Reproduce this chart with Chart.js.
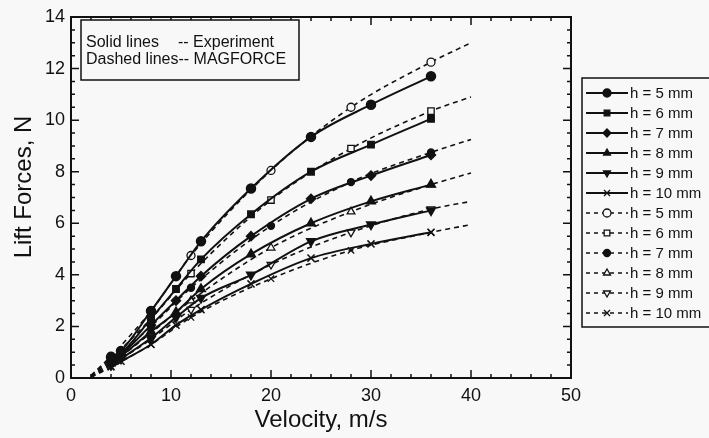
<!DOCTYPE html>
<html>
<head>
<meta charset="utf-8">
<script src="https://cdn.jsdelivr.net/npm/chart.js@4/dist/chart.umd.min.js"></script>
<style>
html,body{margin:0;padding:0;background:#f8f8f8;}
#wrap{width:709px;height:438px;position:relative;}
</style>
</head>
<body>
<div id="wrap"><canvas id="c" width="709" height="438"></canvas></div>
<script>
// ---- data ----
const expVelocity = [4, 5, 8, 10.5, 13, 18, 24, 30, 36];
const exp_h5  = [0.8, 1.05, 2.6, 3.95, 5.3, 7.35, 9.35, 10.6, 11.7];
const exp_h6  = [0.7, 0.95, 2.3, 3.45, 4.6, 6.35, 8.0, 9.05, 10.05];
const exp_h7  = [0.65, 0.9, 2.05, 3.0, 3.95, 5.5, 6.95, 7.85, 8.65];
const exp_h8  = [0.6, 0.85, 1.8, 2.55, 3.45, 4.8, 6.0, 6.85, 7.5];
const exp_h9  = [0.5, 0.75, 1.55, 2.35, 3.1, 4.0, 5.3, 5.95, 6.5];
const exp_h10 = [0.45, 0.65, 1.3, 2.05, 2.65, 3.65, 4.65, 5.2, 5.65];

const modVelocity = [2, 4, 8, 12, 20, 28, 36, 40];
const mod_h5  = [0.1, 0.85, 2.6, 4.75, 8.05, 10.5, 12.25, 13.0];
const mod_h6  = [0.08, 0.75, 2.3, 4.05, 6.9, 8.9, 10.35, 10.9];
const mod_h7  = [0.06, 0.65, 2.0, 3.5, 5.9, 7.6, 8.75, 9.25];
const mod_h8  = [0.05, 0.55, 1.75, 3.0, 5.05, 6.45, 7.5, 7.95];
const mod_h9  = [0.04, 0.5, 1.5, 2.65, 4.4, 5.65, 6.55, 6.85];
const mod_h10 = [0.03, 0.42, 1.3, 2.35, 3.85, 4.95, 5.65, 5.95];
const modMarkerShown = [false, true, true, true, true, true, true, false];

const seriesLabels = ['h = 5 mm','h = 6 mm','h = 7 mm','h = 8 mm','h = 9 mm','h = 10 mm'];
const xTicks = [0, 10, 20, 30, 40, 50];
const yTicks = [0, 2, 4, 6, 8, 10, 12, 14];
const xTitle = 'Velocity, m/s';
const yTitle = 'Lift Forces, N';
const noteLines = ['Solid lines', '-- Experiment', 'Dashed lines-- MAGFORCE'];

// ---- styles ----
const BG = '#f8f8f8';
const INK = '#111';
const FONT = '"Liberation Sans", Arial, sans-serif';

const expStyles = [
  {ps:'circle', r:4.5, rot:0, fill:INK},
  {ps:'rect', r:4.5, rot:0, fill:INK},
  {ps:'rectRot', r:4.5, rot:0, fill:INK},
  {ps:'triangle', r:5, rot:0, fill:INK},
  {ps:'triangle', r:5, rot:180, fill:INK},
  {ps:'crossRot', r:5, rot:0, fill:INK}
];
const modStyles = [
  {ps:'circle', r:4, rot:0, fill:BG},
  {ps:'rect', r:4.5, rot:0, fill:BG},
  {ps:'circle', r:3.5, rot:0, fill:INK},
  {ps:'triangle', r:4.5, rot:0, fill:BG},
  {ps:'triangle', r:4.5, rot:180, fill:BG},
  {ps:'crossRot', r:4.5, rot:0, fill:INK}
];

const expSeries = [exp_h5, exp_h6, exp_h7, exp_h8, exp_h9, exp_h10];
const modSeries = [mod_h5, mod_h6, mod_h7, mod_h8, mod_h9, mod_h10];

const datasets = [];
expSeries.forEach((vals, i) => {
  const st = expStyles[i];
  datasets.push({
    label: seriesLabels[i], kind: 'exp',
    data: expVelocity.map((v, k) => ({x: v, y: vals[k]})),
    showLine: true, borderColor: INK, borderWidth: 2,
    pointStyle: st.ps, pointRadius: st.r, pointRotation: st.rot,
    pointBackgroundColor: st.fill, pointBorderColor: INK, pointBorderWidth: 1.5,
    cubicInterpolationMode: 'monotone', order: 1
  });
});
modSeries.forEach((vals, i) => {
  const st = modStyles[i];
  datasets.push({
    label: seriesLabels[i], kind: 'mod',
    data: modVelocity.map((v, k) => ({x: v, y: vals[k]})),
    showLine: true, borderColor: INK, borderWidth: 1.6, borderDash: [5, 4],
    pointStyle: st.ps, pointRadius: modMarkerShown.map(s => s ? st.r : 0), pointRotation: st.rot,
    pointBackgroundColor: st.fill, pointBorderColor: INK, pointBorderWidth: 1.3,
    cubicInterpolationMode: 'monotone', order: 2
  });
});

function drawMarker(ctx, st, x, y, bw) {
  ctx.save();
  ctx.translate(x, y);
  ctx.rotate(st.rot * Math.PI / 180);
  ctx.fillStyle = st.fill; ctx.strokeStyle = INK; ctx.lineWidth = bw; ctx.setLineDash([]);
  const r = st.r;
  ctx.beginPath();
  if (st.ps === 'circle') { ctx.arc(0, 0, r, 0, Math.PI*2); ctx.fill(); ctx.stroke(); }
  else if (st.ps === 'rect') { const s = r*Math.SQRT1_2; ctx.rect(-s, -s, 2*s, 2*s); ctx.fill(); ctx.stroke(); }
  else if (st.ps === 'rectRot') { ctx.moveTo(0,-r); ctx.lineTo(r,0); ctx.lineTo(0,r); ctx.lineTo(-r,0); ctx.closePath(); ctx.fill(); ctx.stroke(); }
  else if (st.ps === 'triangle') { ctx.moveTo(0,-r); ctx.lineTo(r*0.866, r*0.5); ctx.lineTo(-r*0.866, r*0.5); ctx.closePath(); ctx.fill(); ctx.stroke(); }
  else if (st.ps === 'crossRot') { const s = r*0.75; ctx.moveTo(-s,-s); ctx.lineTo(s,s); ctx.moveTo(s,-s); ctx.lineTo(-s,s); ctx.stroke(); }
  ctx.restore();
}

const decor = {
  id: 'decor',
  beforeDraw(chart) {
    const ctx = chart.ctx;
    ctx.save(); ctx.fillStyle = BG; ctx.fillRect(0, 0, chart.width, chart.height); ctx.restore();
  },
  afterDraw(chart) {
    const ctx = chart.ctx;
    const a = chart.chartArea;
    const xs = chart.scales.x, ys = chart.scales.y;
    ctx.save();
    ctx.strokeStyle = INK; ctx.setLineDash([]);
    // frame
    ctx.lineWidth = 2;
    ctx.strokeRect(a.left, a.top, a.right - a.left, a.bottom - a.top);
    // ticks
    ctx.lineWidth = 1.5;
    ctx.beginPath();
    for (let v = 0; v <= 50.001; v += 2) {
      const p = xs.getPixelForValue(v);
      const L = (Math.abs(v % 10) < 0.01) ? 8 : 4;
      ctx.moveTo(p, a.bottom); ctx.lineTo(p, a.bottom - L);
      ctx.moveTo(p, a.top); ctx.lineTo(p, a.top + L);
    }
    for (let v = 0; v <= 14.001; v += 0.5) {
      const p = ys.getPixelForValue(v);
      const L = (Math.abs(v % 2) < 0.01) ? 8 : 4;
      ctx.moveTo(a.left, p); ctx.lineTo(a.left + L, p);
      ctx.moveTo(a.right, p); ctx.lineTo(a.right - L, p);
    }
    ctx.stroke();

    // y axis title (rotated)
    ctx.save();
    ctx.fillStyle = INK;
    ctx.font = '24px ' + FONT;
    ctx.textAlign = 'center'; ctx.textBaseline = 'middle';
    ctx.translate(24, 187);
    ctx.rotate(-Math.PI / 2);
    ctx.fillText(yTitle, 0, 0);
    ctx.restore();

    // inset note box
    ctx.lineWidth = 1.5;
    ctx.fillStyle = BG;
    ctx.fillRect(81, 20, 218, 60);
    ctx.strokeRect(81, 20, 218, 60);
    ctx.fillStyle = INK;
    ctx.font = '16px ' + FONT;
    ctx.textBaseline = 'middle';
    ctx.textAlign = 'left';
    ctx.fillText(noteLines[0], 86, 43);
    ctx.fillText(noteLines[1], 178, 43);
    ctx.fillText(noteLines[2], 86, 60);

    // legend
    ctx.lineWidth = 1.5;
    ctx.fillStyle = BG;
    ctx.fillRect(582, 78, 140, 249);
    ctx.strokeRect(582, 78, 140, 249);
    ctx.font = '15px ' + FONT;
    chart.data.datasets.forEach((ds, i) => {
      const y = 93 + 20 * i;
      const isMod = ds.kind === 'mod';
      const st = isMod ? modStyles[i - 6] : expStyles[i];
      ctx.save();
      ctx.strokeStyle = INK;
      ctx.lineWidth = isMod ? 1.5 : 2;
      ctx.setLineDash(isMod ? [4, 4] : []);
      ctx.beginPath(); ctx.moveTo(586, y); ctx.lineTo(628, y); ctx.stroke();
      ctx.restore();
      drawMarker(ctx, {ps: st.ps, r: Math.min(st.r, 4), rot: st.rot, fill: st.fill}, 607, y, 1.3);
      ctx.fillStyle = INK;
      ctx.textAlign = 'left'; ctx.textBaseline = 'middle';
      ctx.fillText(ds.label, 630, y + 1);
    });
    ctx.restore();
  }
};

new Chart(document.getElementById('c'), {
  type: 'scatter',
  data: { datasets },
  options: {
    responsive: false,
    animation: false,
    layout: { padding: { left: 0, right: 138, top: 17, bottom: 0 } },
    plugins: { legend: { display: false }, tooltip: { enabled: false } },
    scales: {
      x: {
        type: 'linear', min: 0, max: 50,
        afterFit: s => { s.height = 60; },
        afterBuildTicks: s => { s.ticks = xTicks.map(v => ({value: v})); },
        grid: { display: false, drawTicks: false },
        border: { display: false },
        ticks: { color: INK, font: { family: FONT, size: 18 }, padding: 7, maxRotation: 0 },
        title: { display: true, text: xTitle, color: INK, font: { family: FONT, size: 24 }, padding: { top: 0, bottom: 3 } }
      },
      y: {
        type: 'linear', min: 0, max: 14,
        afterFit: s => { s.width = 71; },
        afterBuildTicks: s => { s.ticks = yTicks.map(v => ({value: v})); },
        grid: { display: false, drawTicks: false },
        border: { display: false },
        ticks: { color: INK, font: { family: FONT, size: 18 }, padding: 6 },
        title: { display: false, text: yTitle }
      }
    }
  },
  plugins: [decor]
});
</script>
</body>
</html>
